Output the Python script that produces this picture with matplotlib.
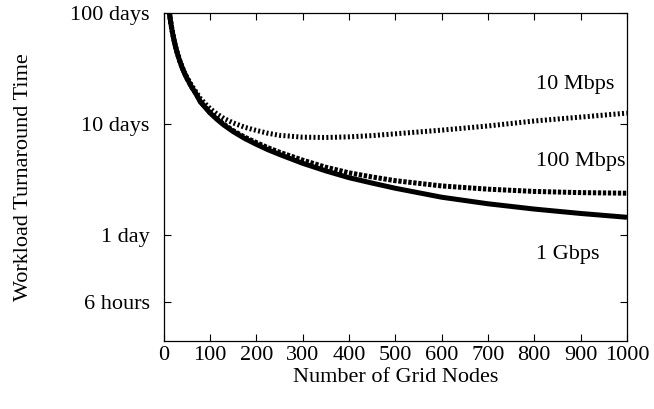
import matplotlib
matplotlib.use("Agg")
import matplotlib.pyplot as plt

# values (turnaround time in days)
nodes = [10, 12, 14, 16, 18, 20, 23, 26, 30, 35, 40, 45, 50, 60, 70, 80, 90,
         100, 115, 130, 150, 175, 200, 225, 250, 300, 350, 400, 450, 500,
         600, 700, 800, 900, 1000]
gbps_1 = [130, 108, 92, 81, 72, 65, 56.5, 50, 43.3, 37.2, 32.6, 29, 26.2,
          21.9, 18.8, 15.8, 14.2, 12.7, 11.1, 9.85, 8.6, 7.45, 6.6, 5.9,
          5.35, 4.45, 3.8, 3.3, 2.95, 2.65, 2.2, 1.92, 1.72, 1.57, 1.45]
mbps_100 = [130, 108, 92, 81, 72, 65, 56.5, 50, 43.3, 37.2, 32.6, 29, 26.2,
            21.95, 18.9, 15.9, 14.3, 12.8, 11.25, 10.0, 8.78, 7.65, 6.85,
            6.15, 5.6, 4.75, 4.1, 3.65, 3.35, 3.1, 2.78, 2.6, 2.48, 2.42,
            2.39]
mbps_10 = [130, 108, 92, 81.2, 72.2, 65.2, 56.8, 50.3, 43.7, 37.6, 33.1,
           29.5, 26.8, 22.6, 19.6, 17.0, 15.3, 13.9, 12.4, 11.3, 10.3, 9.4,
           8.8, 8.3, 7.95, 7.65, 7.6, 7.7, 7.9, 8.2, 8.85, 9.65, 10.7, 11.6,
           12.6]

series_labels = ["10 Mbps", "100 Mbps", "1 Gbps"]
label_x = [804, 804, 804]
label_y = [22.6, 4.58, 0.665]

x_ticks = list(range(0, 1001, 100))
y_ticks = [100, 10, 1, 0.25]
y_ticklabels = ["100 days", "10 days", "1 day", "6 hours"]

plt.rcParams["font.family"] = ["Liberation Serif", "DejaVu Serif"]
plt.rcParams["font.size"] = 16

fig = plt.figure(figsize=(6.54, 4.09), dpi=100)
ax = fig.add_axes([0.25, 0.167, 0.7087, 0.8005])

lw = 3.6
ax.plot(nodes, gbps_1, color="black", lw=lw, solid_capstyle="butt",
        solid_joinstyle="round")
ax.plot(nodes, mbps_100, color="black", lw=lw, dashes=(0.67, 0.33),
        dash_capstyle="butt")
ax.plot(nodes, mbps_10, color="black", lw=lw, dashes=(0.4, 0.46),
        dash_capstyle="butt")

for txt, lx, ly in zip(series_labels, label_x, label_y):
    ax.text(lx, ly, txt, ha="left", va="center")

ax.set_yscale("log")
ax.set_xlim(0, 1000)
ax.set_ylim(0.112, 100)
ax.set_xticks(x_ticks)
ax.set_yticks(y_ticks)
ax.set_yticklabels(y_ticklabels)
ax.minorticks_off()
ax.tick_params(direction="in", length=5, width=0.8, top=True, right=True,
               pad=10)
ax.tick_params(axis="x", pad=4)
for s in ax.spines.values():
    s.set_linewidth(0.9)

ax.set_xlabel("Number of Grid Nodes", labelpad=2)
ax.set_ylabel("Workload Turnaround Time", labelpad=27)

plt.savefig("out.png", dpi=100)
